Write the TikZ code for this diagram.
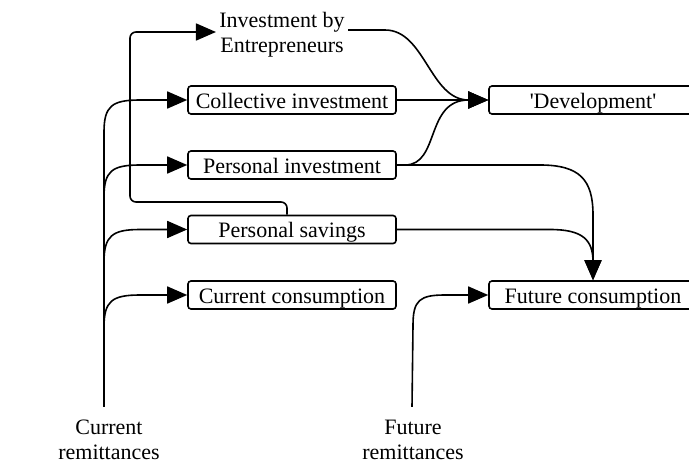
\documentclass[tikz,border=0pt]{standalone}
\usepackage{fontspec}
\setmainfont{Liberation Serif}
\usetikzlibrary{arrows.meta}
\begin{document}
\begin{tikzpicture}[x=0.5pt,y=-0.5pt,
  every node/.style={font=\fontsize{11}{12.5}\selectfont},
  box/.style={draw, line width=0.8pt, rounded corners=1.5pt, minimum width=104pt, minimum height=14pt, inner sep=0pt, text height=11.2pt, text depth=2.8pt},
  lbl/.style={align=center, inner sep=0pt},
  conn/.style={line width=0.8pt},
  arr/.style={conn, -{Triangle[length=10pt,width=8.5pt]}}]
\useasboundingbox (0,0) rectangle (689,465);
\clip (0,0) rectangle (689,465);
% nodes
\node[lbl, inner sep=1.5pt] (ent) at (282,35) {Investment by\\Entrepreneurs};
\node[box] (coll) at (292,100) {Collective investment};
\node[box] (pinv) at (292,165) {Personal investment};
\node[box] (psav) at (292,229.5) {Personal savings};
\node[box] (ccons) at (292,295) {Current consumption};
\node[box] (dev) at (593,100) {\textquotesingle Development\textquotesingle};
\node[box] (fut) at (593,295) {Future consumption};
\node[lbl] (crem) at (109,440) {Current\\remittances};
\node[lbl] (frem) at (413,440) {Future\\remittances};
% current remittances branches
\draw[arr] ([shift={(-2.5pt,6.5pt)}]crem.north) -- (104,132) .. controls (104,106) and (112,100) .. (140,100) -- (coll.west);
\draw[arr] ([shift={(-2.5pt,6.5pt)}]crem.north) -- (104,197) .. controls (104,171) and (112,165) .. (140,165) -- (pinv.west);
\draw[arr] ([shift={(-2.5pt,6.5pt)}]crem.north) -- (104,262) .. controls (104,236) and (112,229.5) .. (140,229.5) -- (psav.west);
\draw[arr] ([shift={(-2.5pt,6.5pt)}]crem.north) -- (104,327) .. controls (104,301) and (112,295) .. (140,295) -- (ccons.west);
% savings loop to entrepreneurs
\draw[arr, rounded corners=3pt] ([xshift=-2.5pt]psav.north) -- (287,202) -- (130,202) -- (130,32) -- ([yshift=1.5pt]ent.west);
% to development
\draw[arr] ([yshift=2.5pt]ent.east) -- (385,30) .. controls (425,30) and (430,100) .. (dev.west);
\draw[arr] (coll.east) -- (dev.west);
\draw[arr] (pinv.east) -- (405,165) .. controls (440,165) and (425,100) .. (dev.west);
% to future consumption
\draw[arr] (pinv.east) -- (540,165) .. controls (580,165) and (593,180) .. (593,215) -- (fut.north);
\draw[arr] (psav.east) -- (550,229.5) .. controls (583,229.5) and (593,240) .. (593,262) -- (fut.north);
\draw[arr] ([shift={(-0.5pt,6.5pt)}]frem.north) -- (413,325) .. controls (413,300) and (420,295) .. (445,295) -- (fut.west);
\end{tikzpicture}
\end{document}
